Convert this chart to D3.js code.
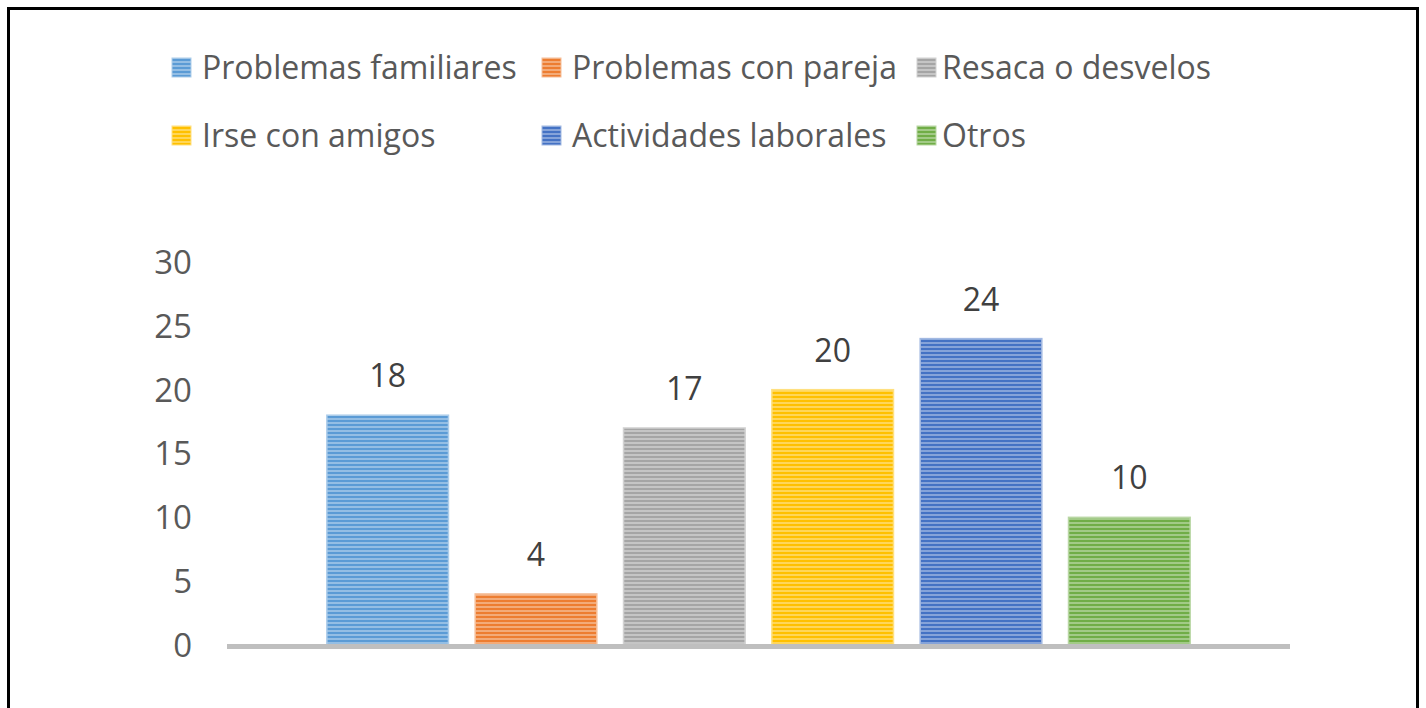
<!DOCTYPE html>
<html>
<head>
<meta charset="utf-8">
<title>Motivos</title>
<style>
  html, body { margin: 0; padding: 0; background: #fff; }
  svg { display: block; }
</style>
</head>
<body>
<svg id="chart" width="1426" height="708"></svg>
<script src="https://cdn.jsdelivr.net/npm/d3@7"></script>
<script>
// data
var categories = ['Problemas familiares', 'Problemas con pareja', 'Resaca o desvelos',
                  'Irse con amigos', 'Actividades laborales', 'Otros'];
var values = [18, 4, 17, 20, 24, 10];
var colors = ['#5b9bd5', '#ed7d31', '#a5a5a5', '#ffc000', '#4472c4', '#70ad47'];
var yTicks = [0, 5, 10, 15, 20, 25, 30];

var font = '"Open Sans", sans-serif';
var svg = d3.select('#chart');

// frame
svg.append('rect')
    .attr('x', 8.5).attr('y', 8.5)
    .attr('width', 1409).attr('height', 720)
    .attr('fill', 'none')
    .attr('stroke', '#000')
    .attr('stroke-width', 3);

// striped patterns, one per colour
var defs = svg.append('defs');
colors.forEach(function (c, i) {
    var light = d3.interpolateRgb(c, '#fff')(0.35);
    var p = defs.append('pattern')
        .attr('id', 'stripe' + i)
        .attr('patternUnits', 'userSpaceOnUse')
        .attr('width', 8).attr('height', 4);
    p.append('rect').attr('width', 8).attr('height', 4).attr('fill', light);
    p.append('rect').attr('width', 8).attr('height', 2).attr('fill', c);
});

// scales
var x = d3.scaleBand()
    .domain(categories)
    .range([313.5, 1203.5])
    .paddingInner(0.18)
    .paddingOuter(0.09);
var y = d3.scaleLinear().domain([0, 30]).range([645, 262]);

// y tick labels
svg.append('g')
    .selectAll('text')
    .data(yTicks)
    .enter().append('text')
    .attr('x', 192)
    .attr('y', d => y(d))
    .attr('dy', '0.36em')
    .attr('text-anchor', 'end')
    .attr('font-family', font)
    .attr('font-size', 33)
    .attr('fill', '#595959')
    .text(d => d);

// bars
svg.append('g')
    .selectAll('rect')
    .data(values)
    .enter().append('rect')
    .attr('x', (d, i) => x(categories[i]))
    .attr('y', d => y(d))
    .attr('width', x.bandwidth())
    .attr('height', d => y(0) - y(d))
    .attr('fill', (d, i) => 'url(#stripe' + i + ')')
    .attr('stroke', (d, i) => d3.interpolateRgb(colors[i], '#fff')(0.5))
    .attr('stroke-width', 1.5);

// axis line
svg.append('line')
    .attr('x1', 227).attr('x2', 1290)
    .attr('y1', y(0) + 1.5).attr('y2', y(0) + 1.5)
    .attr('stroke', '#bfbfbf')
    .attr('stroke-width', 5);

// data labels
svg.append('g')
    .selectAll('text')
    .data(values)
    .enter().append('text')
    .attr('x', (d, i) => x(categories[i]) + x.bandwidth() / 2)
    .attr('y', d => y(d) - 28)
    .attr('text-anchor', 'middle')
    .attr('font-family', font)
    .attr('font-size', 32)
    .attr('fill', '#404040')
    .text(d => d);

// legend
var swatchX = [172, 542, 917];
var textX = [202, 572, 942];
var legend = svg.append('g')
    .selectAll('g')
    .data(categories)
    .enter().append('g')
    .attr('transform', (d, i) => 'translate(0,' + (67 + Math.floor(i / 3) * 68) + ')');

legend.append('rect')
    .attr('x', (d, i) => swatchX[i % 3]).attr('y', -9)
    .attr('width', 19).attr('height', 19)
    .attr('fill', (d, i) => 'url(#stripe' + i + ')')
    .attr('stroke', (d, i) => d3.interpolateRgb(colors[i], '#fff')(0.5))
    .attr('stroke-width', 1);

legend.append('text')
    .attr('x', (d, i) => textX[i % 3])
    .attr('y', 0)
    .attr('dy', '0.36em')
    .attr('font-family', font)
    .attr('font-size', 32)
    .attr('fill', '#595959')
    .text(d => d);
</script>
</body>
</html>
